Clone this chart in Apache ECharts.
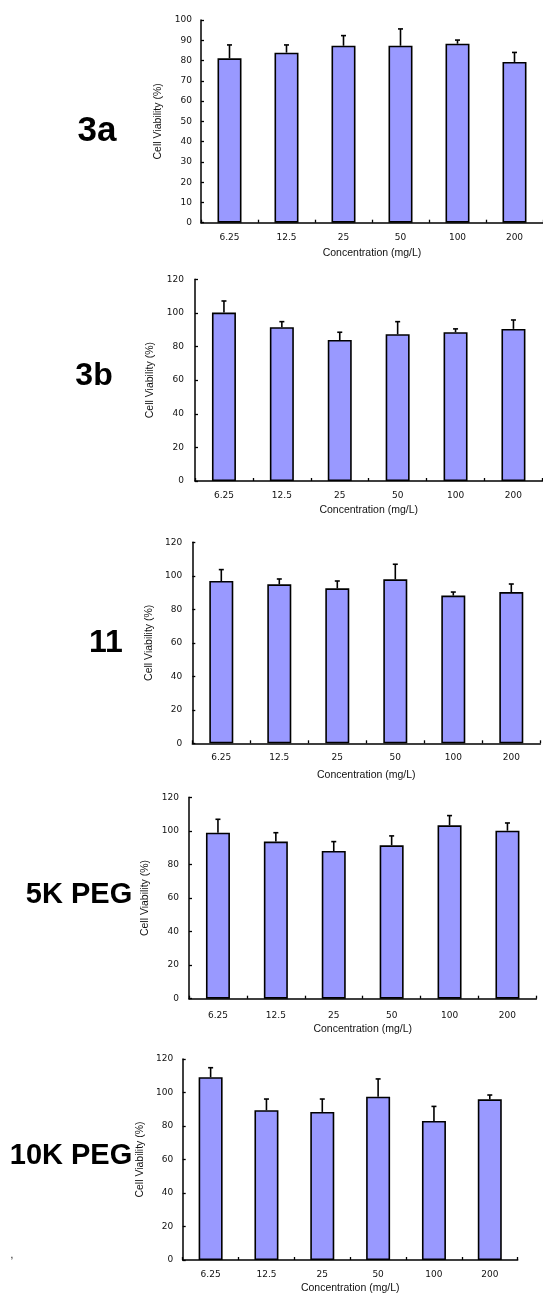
<!DOCTYPE html>
<html>
<head>
<meta charset="utf-8">
<script src="https://cdn.jsdelivr.net/npm/echarts@6/dist/echarts.min.js"></script>
<style>
html,body{margin:0;padding:0;background:#fff;overflow:hidden;}
#chart{width:543px;height:1297px;}
</style>
</head>
<body>
<div id="chart"></div>
<script>
// ---- data ----
var categories = ['6.25', '12.5', '25', '50', '100', '200'];
var panelNames = ['3a', '3b', '11', '5K PEG', '10K PEG'];

var values3a = [81.1, 83.9, 87.3, 87.3, 88.3, 79.3];
var errors3a = [6.6, 3.8, 5.0, 8.3, 1.8, 4.7];

var values3b = [100.2, 91.5, 83.9, 87.3, 88.5, 90.5];
var errors3b = [6.9, 3.3, 4.6, 7.5, 2.0, 5.3];

var values11 = [96.9, 94.9, 92.5, 97.9, 88.2, 90.3];
var errors11 = [6.8, 3.2, 4.4, 9.0, 2.1, 4.8];

var values5k = [98.9, 93.6, 88.0, 91.4, 103.3, 100.1];
var errors5k = [8.0, 5.3, 5.6, 5.6, 5.8, 4.6];

var values10k = [109.1, 89.4, 88.4, 97.5, 83.0, 95.9];
var errors10k = [5.7, 6.7, 7.7, 10.6, 8.7, 2.6];

var yMax = [100, 120, 120, 120, 120];
var yStep = [10, 20, 20, 20, 20];

var yTitle = 'Cell Viability (%)';
var xTitle = 'Concentration (mg/L)';

// ---- layout (positions / styles) ----
var layout = [
  {left: 201,   top: 20,    width: 346,   height: 202.7, yGap: 32, xGap: 25, xMargin: 10, yMargin: 9,  label: {x: 97, y: 131, size: 35}},
  {left: 195,   top: 279.3, width: 347.4, height: 201.7, yGap: 33, xGap: 24, xMargin: 10, yMargin: 11, label: {x: 94, y: 376, size: 32}},
  {left: 192.3, top: 542.3, width: 348,   height: 201,   yGap: 33, xGap: 26, xMargin: 10, yMargin: 10, label: {x: 106, y: 643, size: 32}},
  {left: 189,   top: 797.3, width: 347.4, height: 201.4, yGap: 34, xGap: 25, xMargin: 12, yMargin: 10, label: {x: 79, y: 895, size: 29}},
  {left: 182.7, top: 1059,  width: 335,   height: 201,   yGap: 30, xGap: 23, xMargin: 10, yMargin: 9.5, label: {x: 71, y: 1156, size: 29}}
];

var allValues = [values3a, values3b, values11, values5k, values10k];
var allErrors = [errors3a, errors3b, errors11, errors5k, errors10k];

var grids = [], xAxes = [], yAxes = [], series = [], graphics = [];
var axisColor = '#000';
var textColor = '#111';

for (var i = 0; i < 5; i++) {
  var L = layout[i];
  grids.push({left: L.left, top: L.top, width: L.width, height: L.height});
  xAxes.push({
    type: 'category', gridIndex: i, data: categories, boundaryGap: true,
    name: xTitle, nameLocation: 'middle', nameGap: L.xGap,
    nameTextStyle: {fontFamily: 'Liberation Sans', fontSize: 10.5, color: textColor},
    axisLine: {show: true, lineStyle: {color: axisColor, width: 1.5}},
    axisTick: {show: true, inside: true, length: 3, lineStyle: {color: axisColor, width: 1.3}},
    axisLabel: {margin: L.xMargin, fontFamily: 'DejaVu Sans', fontSize: 9, color: textColor},
    splitLine: {show: false}
  });
  yAxes.push({
    type: 'value', gridIndex: i, min: 0, max: yMax[i], interval: yStep[i],
    name: yTitle, nameLocation: 'middle', nameRotate: 90, nameGap: L.yGap,
    nameTextStyle: {fontFamily: 'Liberation Sans', fontSize: 10.5, color: textColor},
    axisLine: {show: true, lineStyle: {color: axisColor, width: 1.5}},
    axisTick: {show: true, inside: true, length: 3, lineStyle: {color: axisColor, width: 1.3}},
    axisLabel: {margin: L.yMargin, fontFamily: 'DejaVu Sans', fontSize: 9, color: textColor},
    splitLine: {show: false}
  });
  series.push({
    type: 'bar', xAxisIndex: i, yAxisIndex: i, data: allValues[i], barWidth: 24,
    itemStyle: {color: '#9999ff', borderColor: '#000', borderWidth: 1.6},
    z: 2
  });
  var errData = allValues[i].map(function (v, k) { return [k, v, allErrors[i][k]]; });
  series.push({
    type: 'custom', xAxisIndex: i, yAxisIndex: i, data: errData, z: 3,
    renderItem: function (params, api) {
      var base = api.coord([api.value(0), api.value(1)]);
      var top = api.coord([api.value(0), api.value(1) + api.value(2)]);
      var style = {stroke: '#000', lineWidth: 1.6};
      return {
        type: 'group',
        children: [
          {type: 'line', shape: {x1: base[0], y1: base[1], x2: top[0], y2: top[1]}, style: style},
          {type: 'line', shape: {x1: top[0] - 2.5, y1: top[1], x2: top[0] + 2.5, y2: top[1]}, style: style}
        ]
      };
    }
  });
  graphics.push({
    type: 'text', x: L.label.x, y: L.label.y,
    style: {text: panelNames[i], fill: '#000', font: 'bold ' + L.label.size + 'px "Liberation Sans"',
            textAlign: 'center', textVerticalAlign: 'middle'}
  });
}
graphics.push({type: 'text', x: 12, y: 1255, style: {text: ',', fill: '#000', font: '10px "Liberation Sans"', textAlign: 'center', textVerticalAlign: 'middle'}});

var chart = echarts.init(document.getElementById('chart'), null, {renderer: 'canvas'});
chart.setOption({
  animation: false,
  backgroundColor: '#fff',
  grid: grids,
  xAxis: xAxes,
  yAxis: yAxes,
  series: series,
  graphic: graphics
});
</script>
</body>
</html>
